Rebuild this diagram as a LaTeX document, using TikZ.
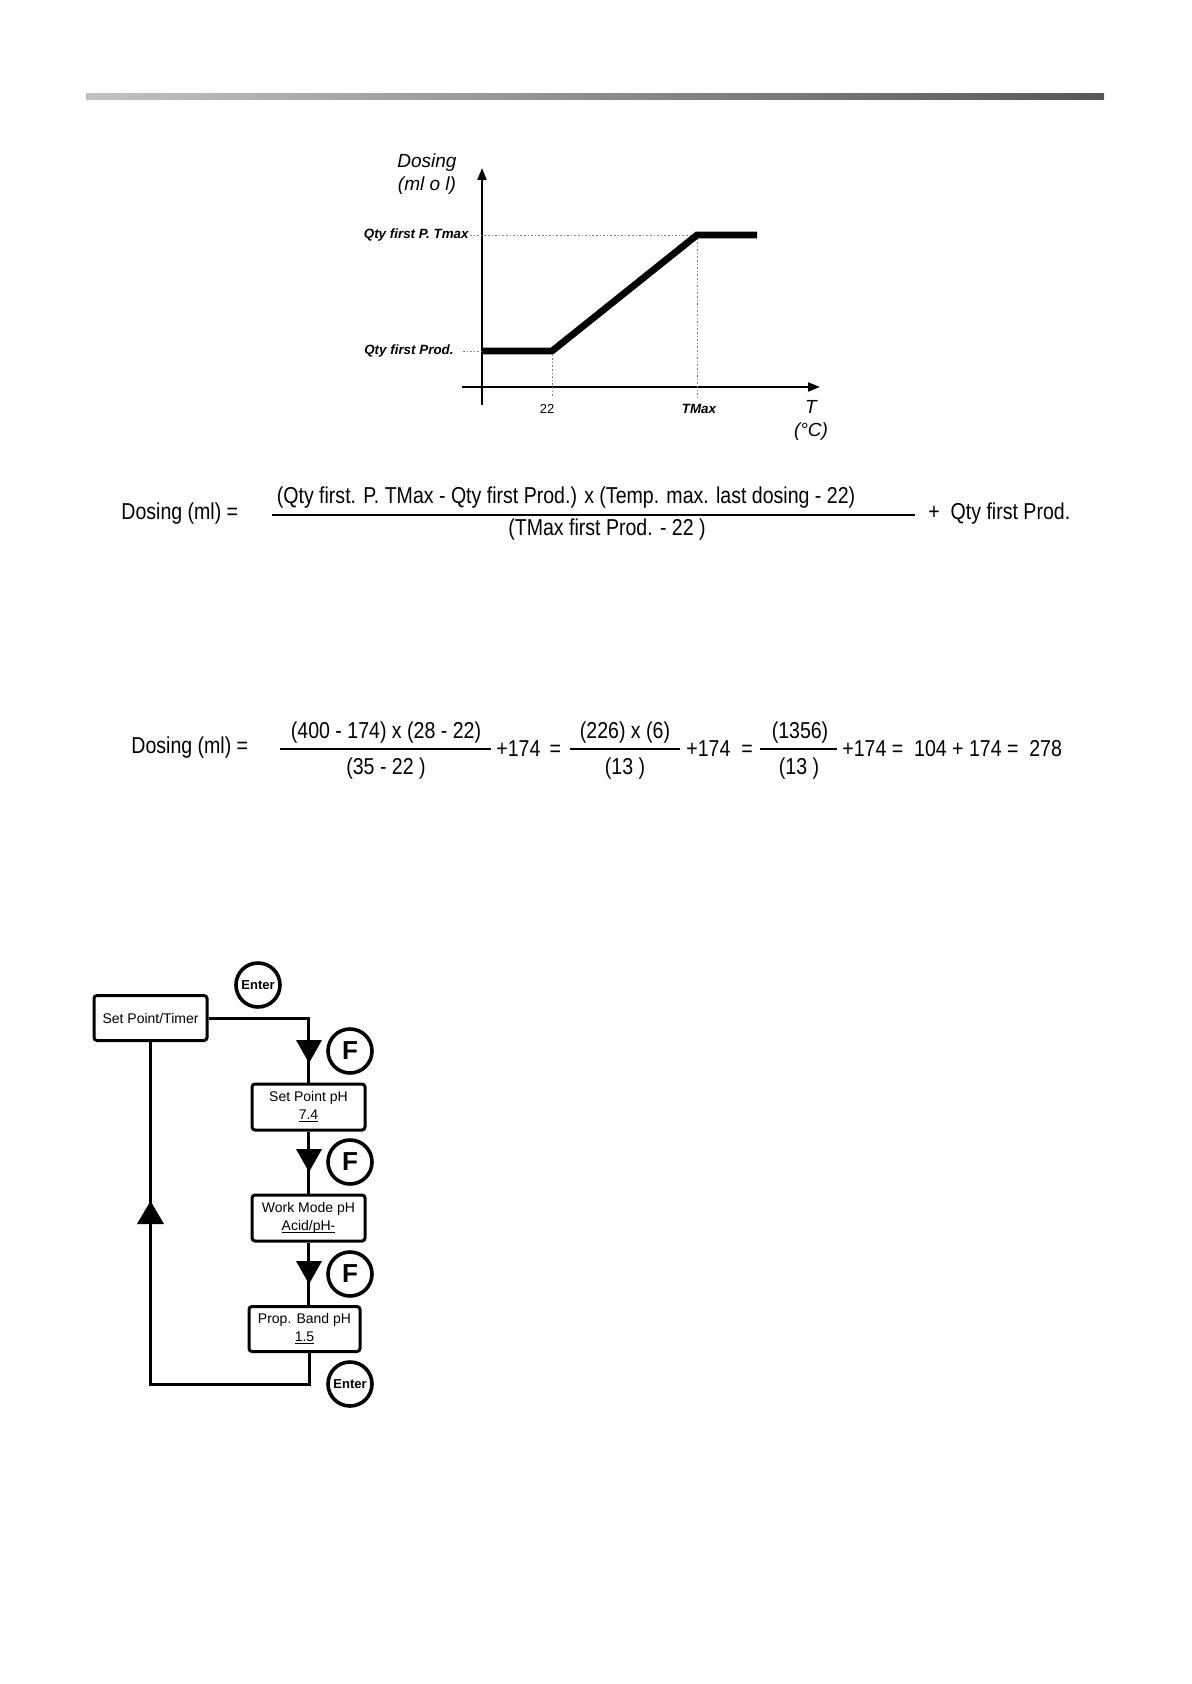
\documentclass[tikz,border=0pt]{standalone}
\usepackage{fontspec}
\setmainfont{Liberation Sans}
\newfontfamily\narrowf[FakeStretch=0.85]{Liberation Sans}
\usetikzlibrary{arrows.meta}
\definecolor{barL}{HTML}{C2C2C2}
\definecolor{barR}{HTML}{575757}
\newcommand\ulval[1]{\underline{\smash{#1}}}
\begin{document}
\begin{tikzpicture}[x=0.5pt,y=-0.5pt,
  axis/.style={line width=1pt,-{Stealth[length=6pt,width=4.5pt,inset=0pt]}},
  guide/.style={gray,line width=0.4pt,dash pattern=on 0.8pt off 1pt},
  curve/.style={line width=3.4pt},
  big/.style={font=\fontsize{9.5}{11}\selectfont\itshape,inner sep=0pt},
  lab/.style={font=\fontsize{6.7}{7.5}\selectfont\bfseries\itshape,inner sep=0pt},
  tick/.style={font=\fontsize{6.5}{7.5}\selectfont,inner sep=0pt},
  eq/.style={font=\fontsize{11.5}{13}\selectfont\narrowf,inner sep=0pt},
  fracline/.style={line width=0.6pt},
  fbox/.style={draw,line width=1.5pt,rounded corners=1.5pt,align=center,inner sep=0pt,
    font=\fontsize{7}{9}\selectfont},
  flow/.style={line width=1.5pt},
  key/.style={draw,circle,line width=1.8pt,inner sep=0pt,minimum size=22pt},
  tri/.style={fill=black}
]
\useasboundingbox (0,0) rectangle (1191,1684);
% top bar
\shade[left color=barL,right color=barR] (86,94) rectangle (1104,100);

% ---------- chart ----------
\coordinate (o) at (482,387);
\coordinate (ytop) at (482,168);
\coordinate (ybot) at (482,405);
\coordinate (xl) at (462,387);
\coordinate (xr) at (820,387);
\coordinate (p0) at (482,351);
\coordinate (p1) at (552,351);
\coordinate (p2) at (697,235);
\coordinate (p3) at (757,235);
\draw[axis] (ybot) -- (ytop);
\draw[axis] (xl) -- (xr);
\draw[guide] (470,235) -- (p2) -- (697,397);
\draw[guide] (463,351) -- (p0);
\draw[guide] (p1) -- (552,397);
\draw[curve] (p0) -- (p1) -- (p2) -- (p3);
\node[big] (dos) at (427,163) {Dosing};
\node[big] (dosu) at (427,186) {(ml o l)};
\node[lab,anchor=east] (qmax) at (469,235) {Qty first P. Tmax};
\node[lab,anchor=east] (qfp) at (454,351) {Qty first Prod.};
\node[tick] (t22) at (547,409) {22};
\node[lab] (tmax) at (699,409) {TMax};
\node[big] (tT) at (811,407) {T};
\node[big] (tC) at (811,432) {(°C)};

% ---------- formula 1 ----------
\node[eq,anchor=west] (f1a) at (121,514) {Dosing (ml) =};
\node[eq] (f1n) at (566,498) {(Qty first. P. TMax - Qty first Prod.) x (Temp. max. last dosing - 22)};
\draw[fracline] (272,515) -- (915,515);
\node[eq] (f1d) at (607,530) {(TMax first Prod. - 22 )};
\node[eq,anchor=west] (f1b) at (928,514) {+\ \ Qty first Prod.};

% ---------- formula 2 ----------
\node[eq,anchor=west] (f2a) at (131,748) {Dosing (ml) =};
\node[eq] (f2n1) at (386,733) {(400 - 174) x (28 - 22)};
\draw[fracline] (280,749) -- (491,749);
\node[eq] (f2d1) at (386,769) {(35 - 22 )};
\node[eq,anchor=west] (f2p1) at (496,749) {+174 \,=};
\node[eq] (f2n2) at (625,733) {(226) x (6)};
\draw[fracline] (570,749) -- (680,749);
\node[eq] (f2d2) at (625,769) {(13 )};
\node[eq,anchor=west] (f2p2) at (686,749) {+174 \ =};
\node[eq] (f2n3) at (800,733) {(1356)};
\draw[fracline] (760,749) -- (837,749);
\node[eq] (f2d3) at (799,769) {(13 )};
\node[eq,anchor=west] (f2p3) at (842,749) {+174 = \ 104 + 174 = \ 278};

% ---------- flowchart ----------
\node[fbox,minimum width=56.5pt,minimum height=22.5pt] (spt) at (150.5,1018) {Set Point/Timer};
\node[fbox,minimum width=56.5pt,minimum height=23pt] (sph) at (308.5,1107) {Set Point pH\\\ulval{7.4}};
\node[fbox,minimum width=56.5pt,minimum height=23pt] (wmph) at (308.5,1218) {Work Mode pH\\\ulval{Acid/pH-}};
\node[fbox,minimum width=55.5pt,minimum height=22.5pt] (pbph) at (304.5,1329) {Prop. Band pH\\\ulval{1.5}};
\coordinate (cl) at (309,1384);
\draw[flow] (spt.east) -| (sph.north);
\draw[flow] (sph.south) -- (wmph.north);
\draw[flow] (wmph.south) -- (wmph.south |- pbph.north);
\draw[flow] (pbph.south -| cl) -- (cl) -| (spt.south);
% direction triangles
\fill[tri] (296,1040) -- (322,1040) -- (309,1063) -- cycle;
\fill[tri] (296,1149) -- (322,1149) -- (309,1172) -- cycle;
\fill[tri] (296,1261) -- (322,1261) -- (309,1284) -- cycle;
\fill[tri] (137,1224) -- (164,1224) -- (150.5,1201) -- cycle;
% keys
\node[key,font=\fontsize{6.5}{7}\selectfont\bfseries] (ent1) at (258,985) {Enter};
\node[key,font=\fontsize{13}{14}\selectfont\bfseries] (fk1) at (350,1051) {F};
\node[key,font=\fontsize{13}{14}\selectfont\bfseries] (fk2) at (350,1162) {F};
\node[key,font=\fontsize{13}{14}\selectfont\bfseries] (fk3) at (350,1274) {F};
\node[key,font=\fontsize{6.5}{7}\selectfont\bfseries] (ent2) at (350,1384) {Enter};
\end{tikzpicture}
\end{document}
